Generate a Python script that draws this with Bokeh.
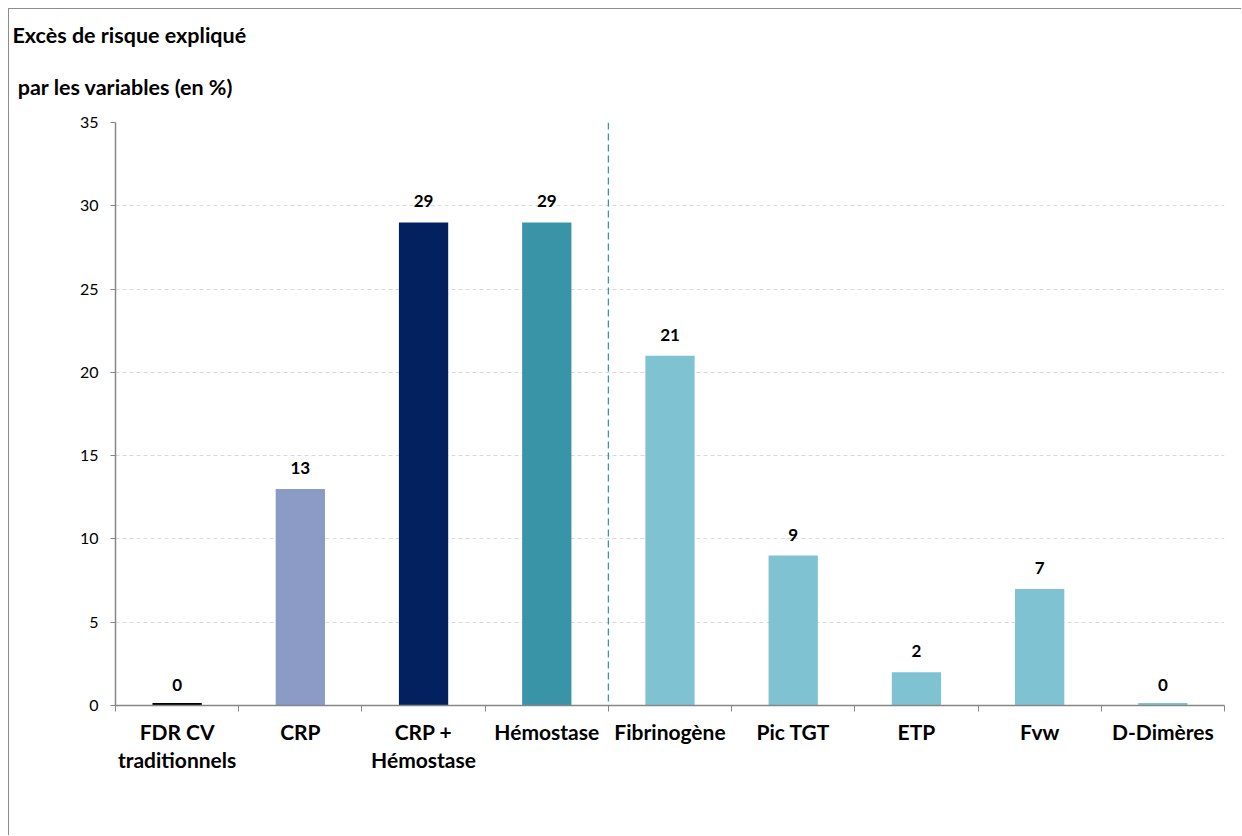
from bokeh.plotting import figure
from bokeh.models import Range1d, FixedTicker, Span, ColumnDataSource, LabelSet, Title
from bokeh.core.properties import value
from bokeh.embed import file_html
from bokeh.resources import INLINE

title_lines = ["Excès de risque expliqué", "\u00a0par les variables (en %)"]
categories = ["FDR CV\ntraditionnels", "CRP", "CRP +\nHémostase", "Hémostase",
              "Fibrinogène", "Pic TGT", "ETP", "Fvw", "D-Dimères"]
values = [0, 13, 29, 29, 21, 9, 2, 7, 0]
colors = ["#000000", "#8b9bc5", "#03215e", "#3a94a8", "#7fc3d3",
          "#7fc3d3", "#7fc3d3", "#7fc3d3", "#7fc3d3"]
y_ticks = [0, 5, 10, 15, 20, 25, 30, 35]

FONT = "Lato"
n = len(categories)
xs = [i + 0.5 for i in range(n)]

src = ColumnDataSource(dict(
    x=xs, top=values, color=colors,
    lw=[5 if v == 0 else 0 for v in values],
    label=[str(v) for v in values],
))

p = figure(width=1233, height=827, output_backend="svg", toolbar_location=None,
           x_range=Range1d(0, n), y_range=Range1d(0, 35),
           min_border_left=106, min_border_right=18, min_border_top=113,
           min_border_bottom=131)
p.styles = {"margin-left": "8px", "margin-top": "8px",
            "border-left": "1px solid #8c8c8c", "border-top": "1px solid #8c8c8c"}
p.outline_line_color = None

# second line first (closest to the frame), then first line above it
for txt, so in [(title_lines[1], 46), (title_lines[0], 1)]:
    p.add_layout(Title(text=txt, text_font=FONT, text_font_size="21.5px",
                       text_font_style="bold", text_color="#000000",
                       align="left", offset=-103, standoff=so), "above")

p.vbar(x="x", top="top", width=0.4, fill_color="color", line_color="color",
       line_width="lw", source=src)

labels = LabelSet(x="x", y="top", text="label", source=src, text_align="center",
                  text_baseline="alphabetic", y_offset=15, text_font=value(FONT),
                  text_font_size="17px", text_font_style="bold", text_color="#000000")
p.add_layout(labels)

p.add_layout(Span(location=4, dimension="height", line_color="#3a94a8",
                  line_width=1.3, line_dash="7 4"))

p.xgrid.visible = False
p.ygrid.grid_line_color = "#d9d9d9"
p.ygrid.grid_line_dash = "4 3"
p.ygrid.ticker = FixedTicker(ticks=y_ticks)

xa = p.xaxis[0]
xa.ticker = FixedTicker(ticks=xs, minor_ticks=list(range(n + 1)))
xa.major_label_overrides = {x: c for x, c in zip(xs, categories)}
xa.major_tick_out = 0
xa.major_tick_in = 0
xa.minor_tick_out = 6
xa.minor_tick_in = 0
xa.minor_tick_line_color = "#868686"
xa.axis_line_color = "#868686"
xa.axis_line_width = 1.5
xa.major_label_text_font = FONT
xa.major_label_text_font_size = "21px"
xa.major_label_text_font_style = "bold"
xa.major_label_text_color = "#000000"
xa.major_label_text_line_height = 1.15
xa.major_label_standoff = 7

ya = p.yaxis[0]
ya.ticker = FixedTicker(ticks=y_ticks)
ya.minor_tick_line_color = None
ya.major_tick_out = 5
ya.major_tick_in = 0
ya.major_tick_line_color = "#868686"
ya.axis_line_color = "#868686"
ya.axis_line_width = 1.5
ya.major_label_text_font = FONT
ya.major_label_text_font_size = "16px"
ya.major_label_text_color = "#000000"
ya.major_label_standoff = 12

open("out.html", "w").write(file_html(p, INLINE))
